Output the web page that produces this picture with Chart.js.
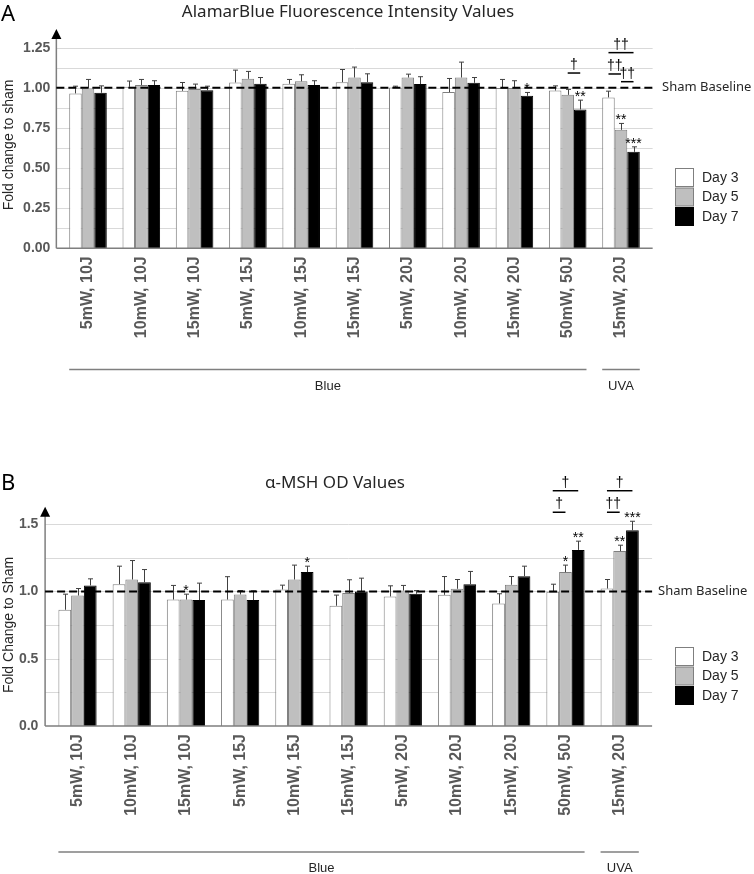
<!DOCTYPE html>
<html>
<head>
<meta charset="utf-8">
<title>AlamarBlue / α-MSH</title>
<script src="https://cdn.jsdelivr.net/npm/chart.js@4.4.1/dist/chart.umd.min.js"></script>
<style>
  body { margin: 0; background: #fff; }
  .panel { position: absolute; left: 0; width: 754px; height: 437px; }
  #wrapA { top: 0; }
  #wrapB { top: 437px; }
</style>
</head>
<body>
<div id="wrapA" class="panel"><canvas id="chartA" width="754" height="437"></canvas></div>
<div id="wrapB" class="panel"><canvas id="chartB" width="754" height="437"></canvas></div>
<script>
// --- data ---
const CATEGORIES = ['5mW, 10J', '10mW, 10J', '15mW, 10J', '5mW, 15J', '10mW, 15J', '15mW, 15J',
                    '5mW, 20J', '10mW, 20J', '15mW, 20J', '50mW, 50J', '15mW, 20J'];
const SERIES = ['Day 3', 'Day 5', 'Day 7'];
const GROUPS = [['Blue', 0, 9], ['UVA', 10, 10]];   // label, first category, last category

// panel A - AlamarBlue fold change
const A_DAY3 = [0.965, 1.006, 0.981, 1.033, 1.025, 1.035, 1.002, 0.973, 0.998, 0.983, 0.940];
const A_DAY5 = [0.996, 1.017, 0.992, 1.056, 1.040, 1.064, 1.064, 1.064, 0.998, 0.956, 0.738];
const A_DAY7 = [0.969, 1.017, 0.985, 1.025, 1.017, 1.035, 1.023, 1.031, 0.950, 0.865, 0.601];
const A_ERR3 = [0.045, 0.036, 0.052, 0.077, 0.027, 0.079, 0.008, 0.085, 0.054, 0.029, 0.039];
const A_ERR5 = [0.056, 0.035, 0.031, 0.046, 0.041, 0.065, 0.021, 0.096, 0.046, 0.034, 0.040];
const A_ERR7 = [0.043, 0.027, 0.025, 0.039, 0.027, 0.052, 0.046, 0.033, 0.021, 0.058, 0.031];
const A_TICKS = [0, 0.25, 0.5, 0.75, 1.0, 1.25];
const A_GRID = [0.125, 0.25, 0.375, 0.5, 0.625, 0.75, 0.875, 1.0, 1.125, 1.25];
const A_STARS = [[8, 2, '*'], [9, 2, '**'], [10, 1, '**'], [10, 2, '***']];        // category, series, mark
const A_BRACKETS = [[9, 1, 2, 1.092, '†'], [10, 0, 2, 1.219, '††'],
                    [10, 0, 1, 1.086, '††'], [10, 1, 2, 1.038, '††']];            // category, from, to, level, mark

// panel B - α-MSH OD fold change
const B_DAY3 = [0.864, 1.054, 0.940, 0.940, 1.015, 0.894, 0.963, 0.975, 0.911, 0.998, 1.022];
const B_DAY5 = [0.970, 1.089, 0.940, 0.978, 1.089, 0.988, 1.007, 1.020, 1.050, 1.144, 1.300];
const B_DAY7 = [1.045, 1.069, 0.936, 0.936, 1.144, 1.000, 0.983, 1.054, 1.114, 1.309, 1.455];
const B_ERR3 = [0.116, 0.134, 0.105, 0.170, 0.032, 0.079, 0.079, 0.136, 0.072, 0.056, 0.067];
const B_ERR5 = [0.052, 0.141, 0.040, 0.029, 0.107, 0.099, 0.038, 0.069, 0.061, 0.052, 0.044];
const B_ERR7 = [0.049, 0.094, 0.126, 0.069, 0.044, 0.099, 0.024, 0.095, 0.074, 0.065, 0.067];
const B_TICKS = [0, 0.5, 1.0, 1.5];
const B_GRID = [0.25, 0.5, 0.75, 1.0, 1.25, 1.5];
const B_STARS = [[2, 1, '*'], [4, 2, '*'], [9, 1, '*'], [9, 2, '**'], [10, 1, '**'], [10, 2, '***']];
const B_BRACKETS = [[9, 0, 2, 1.749, '†'], [9, 0, 1, 1.589, '†'],
                    [10, 0, 2, 1.749, '†'], [10, 0, 1, 1.589, '††']];

const BASELINE = 1.0;

// --- styles ---
const FILLS = ['#ffffff', '#bfbfbf', '#000000'];
const EDGES = ['#7f7f7f', '#7f7f7f', '#000000'];
const AXIS = '#7f7f7f';
const GRIDC = '#d9d9d9';
const TEXT = '#262626';
const TICKC = '#595959';
const SANS = "'Liberation Sans', Arial, sans-serif";
const TITLE_FONT = "'Noto Sans', 'Liberation Sans', sans-serif";

// Plugin: gridlines, axes with arrow, baseline, error bars, significance marks, legend, labels
function decor(p) {
  return {
    id: 'decor' + p.key,
    beforeDatasetsDraw(chart) {
      const { ctx, chartArea } = chart;
      const y = chart.scales.y;
      const x0 = chartArea.left - p.ext, x1 = chartArea.right + p.ext;
      ctx.save();
      ctx.strokeStyle = GRIDC;
      ctx.lineWidth = 1;
      p.grid.forEach(v => {
        const py = Math.round(y.getPixelForValue(v)) + 0.5;
        ctx.beginPath(); ctx.moveTo(x0, py); ctx.lineTo(x1, py); ctx.stroke();
      });
      ctx.restore();
    },
    afterDatasetsDraw(chart) {
      const { ctx, chartArea } = chart;
      const y = chart.scales.y;
      const x0 = chartArea.left - p.ext, x1 = chartArea.right + p.ext;
      const yb = y.getPixelForValue(0);
      ctx.save();

      // error bars (upper only)
      ctx.strokeStyle = '#404040';
      ctx.lineWidth = 1;
      p.errors.forEach((errs, d) => {
        chart.getDatasetMeta(d).data.forEach((bar, i) => {
          const top = y.getPixelForValue(p.values[d][i] + errs[i]);
          const bx = Math.round(bar.x) + 0.5;
          ctx.beginPath();
          ctx.moveTo(bx, bar.y); ctx.lineTo(bx, top);
          ctx.moveTo(bx - 2.5, top); ctx.lineTo(bx + 2.5, top);
          ctx.stroke();
        });
      });

      // axes
      ctx.strokeStyle = AXIS;
      ctx.lineWidth = 1.5;
      ctx.beginPath();
      ctx.moveTo(x0, yb); ctx.lineTo(x1, yb);
      ctx.moveTo(x0, yb); ctx.lineTo(x0, p.arrowTip + 9);
      ctx.stroke();
      ctx.fillStyle = '#000';
      ctx.beginPath();
      ctx.moveTo(x0, p.arrowTip);
      ctx.lineTo(x0 - 5, p.arrowTip + 10);
      ctx.lineTo(x0 + 5, p.arrowTip + 10);
      ctx.closePath(); ctx.fill();

      // sham baseline
      const py = y.getPixelForValue(BASELINE);
      ctx.strokeStyle = '#000';
      ctx.lineWidth = 2;
      ctx.setLineDash([8, 4]);
      ctx.beginPath(); ctx.moveTo(x0, py); ctx.lineTo(x1 + p.dashExt, py); ctx.stroke();
      ctx.setLineDash([]);
      ctx.fillStyle = TEXT;
      ctx.font = '13px ' + TITLE_FONT;
      ctx.textAlign = 'left';
      ctx.textBaseline = 'middle';
      ctx.fillText('Sham Baseline', p.shamX, py);

      // stars
      ctx.fillStyle = '#000';
      ctx.font = '14px ' + SANS;
      ctx.textAlign = 'center';
      ctx.textBaseline = 'alphabetic';
      p.stars.forEach(([i, d, mark]) => {
        const bar = chart.getDatasetMeta(d).data[i];
        const top = y.getPixelForValue(p.values[d][i] + p.errors[d][i]);
        ctx.fillText(mark, bar.x, top + 1);
      });

      // brackets
      ctx.strokeStyle = '#000';
      ctx.lineWidth = 1.5;
      ctx.font = '14px ' + SANS;
      p.brackets.forEach(([i, a, b, level, mark]) => {
        const xa = chart.getDatasetMeta(a).data[i].x;
        const xb = chart.getDatasetMeta(b).data[i].x;
        const ly = y.getPixelForValue(level);
        ctx.beginPath(); ctx.moveTo(xa, ly); ctx.lineTo(xb, ly); ctx.stroke();
        ctx.fillText(mark, (xa + xb) / 2, ly - 4);
      });

      // category groups
      ctx.strokeStyle = AXIS;
      ctx.lineWidth = 1.5;
      ctx.fillStyle = TEXT;
      ctx.font = '13px ' + SANS;
      GROUPS.forEach(([label, first, last]) => {
        const m0 = chart.getDatasetMeta(0).data[first];
        const m2 = chart.getDatasetMeta(2).data[last];
        const gl = m0.x - m0.width / 2, gr = m2.x + m2.width / 2;
        ctx.beginPath(); ctx.moveTo(gl, p.groupY); ctx.lineTo(gr, p.groupY); ctx.stroke();
        ctx.fillText(label, (gl + gr) / 2, p.groupY + 20);
      });

      // legend
      ctx.font = '14px ' + SANS;
      ctx.textAlign = 'left';
      ctx.textBaseline = 'middle';
      ctx.lineWidth = 1;
      chart.data.datasets.forEach((ds, d) => {
        const ly = p.legendTop + d * 19.5;
        ctx.fillStyle = FILLS[d];
        ctx.fillRect(675.5, ly + 0.5, 18, 18);
        ctx.strokeStyle = EDGES[d];
        ctx.strokeRect(675.5, ly + 0.5, 18, 18);
        ctx.fillStyle = TEXT;
        ctx.fillText(ds.label, 702, ly + 10);
      });

      // y title, panel letter, title
      ctx.save();
      ctx.translate(p.yTitleX, p.yTitleY);
      ctx.rotate(-Math.PI / 2);
      ctx.textAlign = 'center';
      ctx.font = '14px ' + SANS;
      ctx.fillText(p.yTitle, 0, 0);
      ctx.restore();

      ctx.fillStyle = '#000';
      ctx.textBaseline = 'alphabetic';
      ctx.textAlign = 'left';
      ctx.font = '22px ' + TITLE_FONT;
      ctx.fillText(p.letter, 1, p.letterY);
      ctx.textAlign = 'center';
      ctx.font = '17px ' + TITLE_FONT;
      ctx.fillStyle = TEXT;
      ctx.fillText(p.title, p.titleX, p.titleY);

      ctx.restore();
    }
  };
}

function makePanel(id, p) {
  const values = p.values;
  new Chart(document.getElementById(id), {
    type: 'bar',
    data: {
      labels: CATEGORIES,
      datasets: SERIES.map((s, d) => ({
        label: s,
        data: values[d],
        backgroundColor: FILLS[d],
        borderColor: EDGES[d],
        borderWidth: 1,
        categoryPercentage: 0.705,
        barPercentage: 1.0
      }))
    },
    options: {
      responsive: false,
      animation: false,
      layout: { padding: { top: p.top, right: 754 - p.right, left: 0, bottom: 0 } },
      plugins: { legend: { display: false }, tooltip: { enabled: false } },
      scales: {
        x: {
          grid: { display: false, drawTicks: false },
          border: { display: false },
          ticks: {
            autoSkip: false, minRotation: 90, maxRotation: 90, padding: 8,
            color: TICKC, font: { family: SANS, size: 16, weight: 'bold' }
          },
          afterFit: scale => { scale.height = 437 - p.bottom; }
        },
        y: {
          min: 0, max: p.max,
          grid: { display: false, drawTicks: false },
          border: { display: false },
          afterBuildTicks: scale => { scale.ticks = p.ticks.map(v => ({ value: v })); },
          ticks: {
            padding: p.tickPad, color: TICKC,
            font: { family: SANS, size: 14, weight: 'bold' },
            callback: v => v.toFixed(p.decimals)
          },
          afterFit: scale => { scale.width = p.left; }
        }
      }
    },
    plugins: [decor(p)]
  });
}

makePanel('chartA', {
  key: 'A', values: [A_DAY3, A_DAY5, A_DAY7], errors: [A_ERR3, A_ERR5, A_ERR7],
  ticks: A_TICKS, grid: A_GRID, stars: A_STARS, brackets: A_BRACKETS, decimals: 2,
  max: 1.375, top: 27.6, bottom: 248.3, left: 61.35, right: 647.65, tickPad: 11, ext: 5,
  dashExt: 3, arrowTip: 29, shamX: 662, legendTop: 168, groupY: 369.5,
  yTitle: 'Fold change to sham', yTitleX: 9, yTitleY: 145,
  letter: 'A', letterY: 21, title: 'AlamarBlue Fluorescence Intensity Values', titleX: 348, titleY: 17
});

makePanel('chartB', {
  key: 'B', values: [B_DAY3, B_DAY5, B_DAY7], errors: [B_ERR3, B_ERR5, B_ERR7],
  ticks: B_TICKS, grid: B_GRID, stars: B_STARS, brackets: B_BRACKETS, decimals: 1,
  max: 1.625, top: 70.4, bottom: 289, left: 50.4, right: 646.8, tickPad: 12, ext: 5.3,
  dashExt: 0, arrowTip: 69.7, shamX: 658, legendTop: 210, groupY: 415,
  yTitle: 'Fold Change to Sham', yTitleX: 9, yTitleY: 188,
  letter: 'B', letterY: 53, title: 'α-MSH OD Values', titleX: 335, titleY: 51
});
</script>
</body>
</html>
